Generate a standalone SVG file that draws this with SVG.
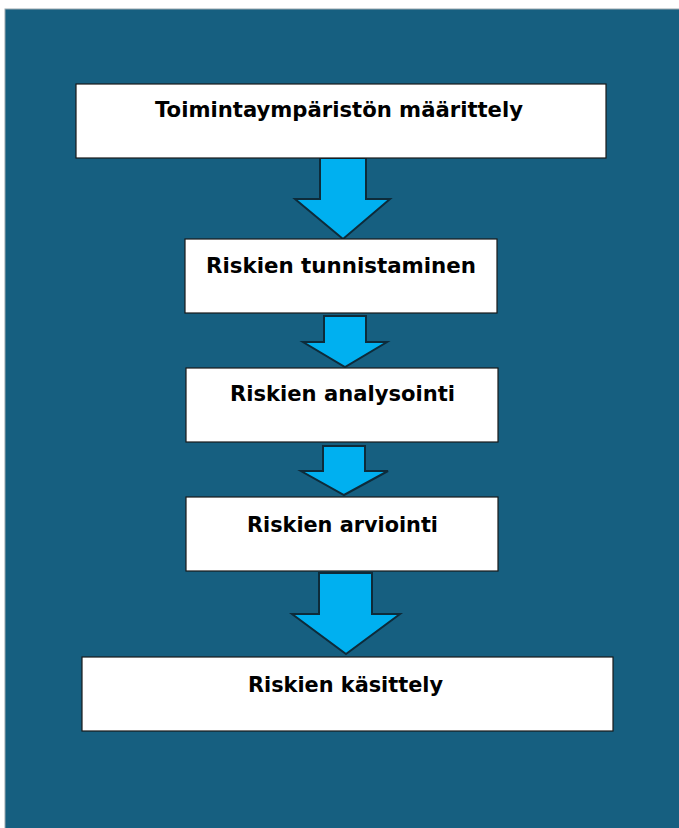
<svg xmlns="http://www.w3.org/2000/svg" width="679" height="828" viewBox="0 0 679 828">
<style>
.box{fill:#ffffff;stroke:#1a1a1a;stroke-width:1.2}
.lbl{font-family:"DejaVu Sans","Liberation Sans",sans-serif;font-weight:bold;font-size:21px;fill:#000;text-anchor:middle}
.arr{fill:#00B0F0;stroke:#0d2b3a;stroke-width:2;stroke-linejoin:miter}
</style>
<rect x="0" y="0" width="679" height="828" fill="#ffffff"/>
<rect x="5" y="9" width="680" height="825" fill="#165F80" stroke="#9aa7ad" stroke-width="1"/>
<g id="connectors">
<polygon class="arr" points="320,158 366,158 366,199 390,199 343,239 295,199 320,199"/>
<polygon class="arr" points="324,316 366,316 366,342 387,342 345,367 303,342 324,342"/>
<polygon class="arr" points="323,446 365,446 365,471 388,471 344,495 301,471 323,471"/>
<polygon class="arr" points="319,573 372,573 372,614 400,614 346,654 292,614 319,614"/>
</g>
<g id="node1"><rect class="box" x="76" y="84" width="530" height="74"/><text class="lbl" x="339" y="117" textLength="368" lengthAdjust="spacingAndGlyphs">Toimintaympäristön määrittely</text></g>
<g id="node2"><rect class="box" x="185" y="239" width="312" height="74"/><text class="lbl" x="341" y="273" textLength="270" lengthAdjust="spacingAndGlyphs">Riskien tunnistaminen</text></g>
<g id="node3"><rect class="box" x="186" y="368" width="312" height="74"/><text class="lbl" x="342.5" y="401" textLength="225" lengthAdjust="spacingAndGlyphs">Riskien analysointi</text></g>
<g id="node4"><rect class="box" x="186" y="497" width="312" height="74"/><text class="lbl" x="342.5" y="532" textLength="191" lengthAdjust="spacingAndGlyphs">Riskien arviointi</text></g>
<g id="node5"><rect class="box" x="82" y="657" width="531" height="74"/><text class="lbl" x="345.5" y="692" textLength="195" lengthAdjust="spacingAndGlyphs">Riskien käsittely</text></g>
</svg>
